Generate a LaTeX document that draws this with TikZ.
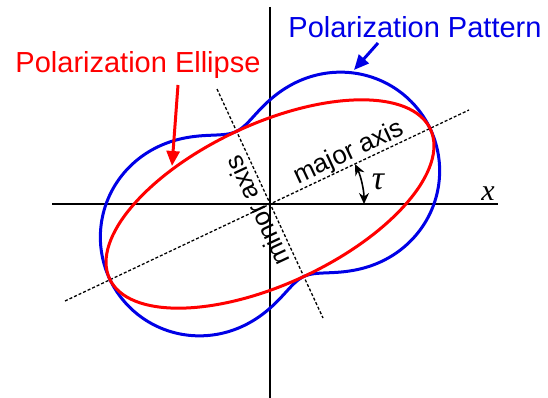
\documentclass[tikz,border=0pt]{standalone}
\usepackage{fontspec}
\setmainfont{Liberation Sans}
\newfontfamily\timesf{Liberation Serif}
\usetikzlibrary{arrows.meta,calc}
\definecolor{myred}{RGB}{255,0,0}
\definecolor{myblue}{RGB}{0,0,230}
\tikzset{
  axisline/.style={line width=1.5pt, black},
  dotline/.style={line width=1.3pt, black, dash pattern=on 3pt off 2pt},
  ellcurve/.style={line width=3pt, myred},
  patcurve/.style={line width=3pt, myblue},
  bigtext/.style={font=\fontsize{29}{32}\selectfont, inner sep=0pt},
  axtext/.style={font=\fontsize{26}{28}\selectfont, inner sep=0pt},
  symtext/.style={font=\timesf\itshape\fontsize{30}{32}\selectfont, inner sep=0pt},
  tautext/.style={font=\timesf\itshape\fontsize{34}{36}\selectfont, inner sep=0pt},
  callout/.style={line width=3pt, -{Triangle[length=15pt,width=13pt]}},
  tauarrow/.style={line width=1.6pt, {Stealth[length=11pt,width=10pt]}-{Stealth[length=11pt,width=10pt]}},
  declare function={rp(\t)=100*sqrt(1.77*1.77*cos(\t-25)*cos(\t-25)+0.8*0.8*sin(\t-25)*sin(\t-25));}
}
\begin{document}
\begin{tikzpicture}[x=1pt,y=-1pt]
\useasboundingbox (0,0) rectangle (548,398);
% axes
\coordinate (O) at (270,204);
\coordinate (xl) at (52,204);
\coordinate (xr) at (498,204);
\coordinate (yt) at (270,7);
\coordinate (yb) at (270,398);
\draw[axisline] (xl) -- (xr);
\draw[axisline] (yt) -- (yb);
% major / minor axes
\coordinate (ma1) at (65,301);
\coordinate (ma2) at (469,110);
\coordinate (mi1) at (217,89);
\coordinate (mi2) at (323,318);
\draw[dotline] (ma1) -- (ma2);
\draw[dotline] (mi1) -- (mi2);
% polarization pattern
\draw[patcurve, shift={(270,204)}] plot[domain=0:358, samples=180, smooth cycle]
  ({rp(\x)*cos(\x)}, {-rp(\x)*sin(\x)});
% polarization ellipse
\draw[ellcurve, shift={(270,204)}, rotate=25] (0,0) ellipse[x radius=177, y radius=80];
% labels
\node[bigtext, text=myred, anchor=base] (lblE) at (138,73) {Polarization Ellipse};
\node[bigtext, text=myblue, anchor=base] (lblP) at (415,38) {Polarization Pattern};
\node[axtext, rotate=25] (lblMaj) at (349,153) {major axis};
\node[axtext, rotate=115] (lblMin) at (257,211) {minor axis};
\node[symtext] (lblx) at (488,194) {x};
\node[tautext] (lbltau) at (378,182) {τ};
% callouts
\coordinate (redtail) at (178,85);
\coordinate (redtip) at (172,166);
\draw[callout, myred] (redtail) -- (redtip);
\coordinate (bluetail) at (378,43);
\coordinate (bluetip) at (354,70);
\draw[callout, myblue] (bluetail) -- (bluetip);
% tau arrow
\coordinate (tau0) at (364,204);
\draw[tauarrow] (tau0) arc[start angle=0, end angle=-25, radius=94];
\end{tikzpicture}
\end{document}
